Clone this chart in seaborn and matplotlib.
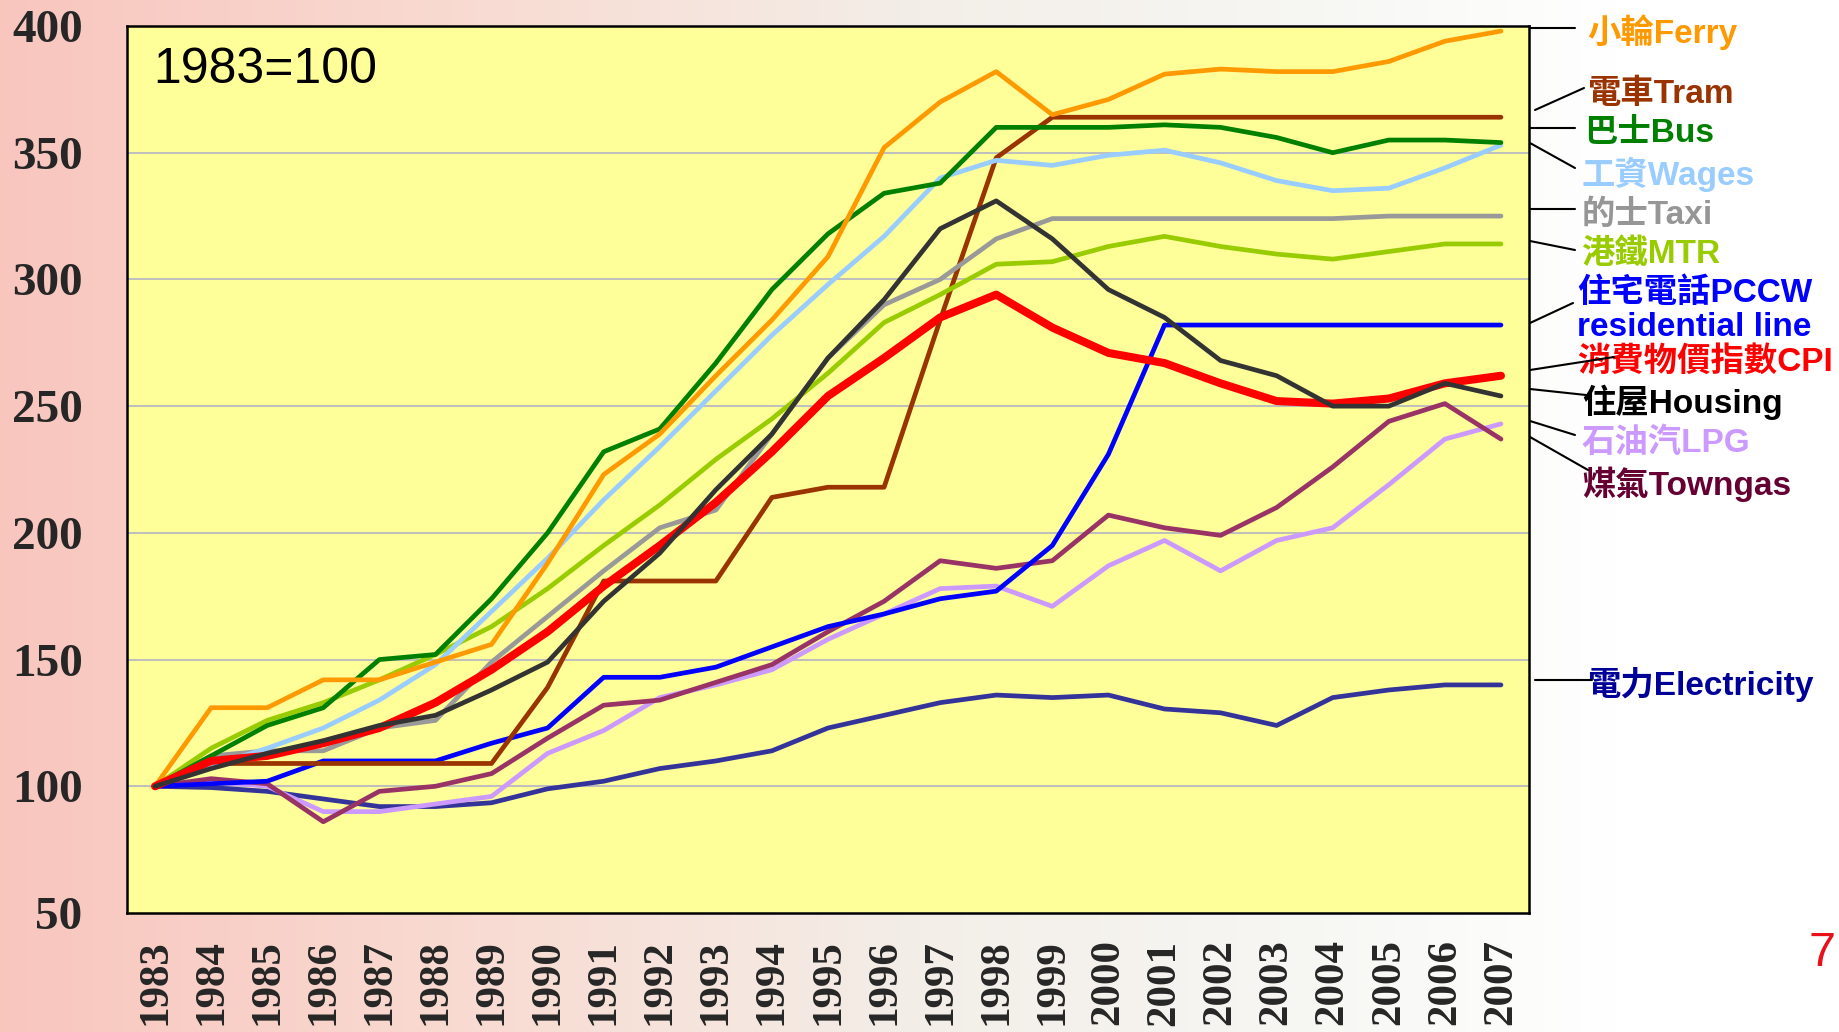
import numpy as np
import pandas as pd
import matplotlib
matplotlib.use("Agg")
import matplotlib.pyplot as plt
from matplotlib.colors import LinearSegmentedColormap
from matplotlib.lines import Line2D
import seaborn as sns

# ── Data (1983 = 100) ─────────────────────────────────────────────────────────
years = list(range(1983, 2008))

ferry       = [100, 131, 131, 142, 142, 149, 156, 188, 223, 239, 262, 284, 309,
               352, 370, 382, 365, 371, 381, 383, 382, 382, 386, 394, 398]
tram        = [100, 109, 109, 109, 109, 109, 109, 139, 181, 181, 181, 214, 218,
               218, 284, 348, 364, 364, 364, 364, 364, 364, 364, 364, 364]
bus         = [100, 112, 124, 131, 150, 152, 174, 200, 232, 241, 267, 296, 318,
               334, 338, 360, 360, 360, 361, 360, 356, 350, 355, 355, 354]
wages       = [100, 108, 115, 123, 134, 148, 169, 190, 213, 234, 256, 278, 298,
               317, 340, 347, 345, 349, 351, 346, 339, 335, 336, 344, 353]
taxi        = [100, 112, 114, 114, 123, 126, 149, 167, 185, 202, 209, 239, 269,
               290, 300, 316, 324, 324, 324, 324, 324, 324, 325, 325, 325]
mtr         = [100, 115, 126, 133, 142, 152, 163, 178, 195, 211, 229, 245, 263,
               283, 294, 306, 307, 313, 317, 313, 310, 308, 311, 314, 314]
pccw        = [100, 101, 102, 110, 110, 110, 117, 123, 143, 143, 147, 155, 163,
               168, 174, 177, 195, 231, 282, 282, 282, 282, 282, 282, 282]
cpi         = [100, 110, 112, 117, 123, 133, 146, 161, 179, 195, 212, 232, 254,
               269, 285, 294, 281, 271, 267, 259, 252, 251, 253, 259, 262]
housing     = [100, 107, 113, 118, 124, 128, 138, 149, 173, 192, 217, 239, 269,
               292, 320, 331, 316, 296, 285, 268, 262, 250, 250, 259, 254]
lpg         = [100, 102, 100, 90, 90, 93, 96, 113, 122, 135, 140, 146, 158,
               168, 178, 179, 171, 187, 197, 185, 197, 202, 219, 237, 243]
towngas     = [100, 103, 101, 86, 98, 100, 105, 119, 132, 134, 141, 148, 161,
               173, 189, 186, 189, 207, 202, 199, 210, 226, 244, 251, 237]
electricity = [100, 99.5, 98, 95, 92, 92, 93.5, 99, 102, 107, 110, 114, 123,
               128, 133, 136, 135, 136, 130.5, 129, 124, 135, 138, 140, 140]

y_ticks = [50, 100, 150, 200, 250, 300, 350, 400]

# ── Styling ───────────────────────────────────────────────────────────────────
W, H = 1840, 1032
def fx(px): return px / W
def fy(py): return 1 - py / H

sns.set_style("white")
plt.rcParams["font.family"] = ["Liberation Sans", "Noto Sans CJK TC", "DejaVu Sans"]

# series key -> (values, line colour, width pt) ; drawing order
series = [
    ("Electricity", electricity, "#333399", 3.4),
    ("LPG",         lpg,         "#CC99FF", 3.4),
    ("Towngas",     towngas,     "#993366", 3.4),
    ("PCCW",        pccw,        "#0000FF", 3.4),
    ("Tram",        tram,        "#993300", 3.4),
    ("Taxi",        taxi,        "#999999", 3.4),
    ("MTR",         mtr,         "#99CC00", 3.4),
    ("Wages",       wages,       "#99CCFF", 3.4),
    ("Bus",         bus,         "#008000", 3.4),
    ("Ferry",       ferry,       "#FF9900", 3.4),
    ("CPI",         cpi,         "#FF0000", 5.8),
    ("Housing",     housing,     "#333333", 3.4),
]

df = pd.concat([pd.DataFrame({"year": years, "index": vals, "item": key})
                for key, vals, _, _ in series], ignore_index=True)

fig = plt.figure(figsize=(W / 100, H / 100), dpi=100)

# gradient background (pink -> white)
bg = fig.add_axes([0, 0, 1, 1], zorder=-10)
cmap = LinearSegmentedColormap.from_list("bg", [
    (0.00, "#F9C6BE"), (0.28, "#F8DDD4"), (0.50, "#F3EEE8"),
    (0.72, "#F7F7F4"), (0.88, "#FFFFFF"), (1.00, "#FFFFFF")])
bg.imshow(np.linspace(0, 1, 512).reshape(1, -1), aspect="auto", cmap=cmap,
          extent=[0, 1, 0, 1])
bg.axis("off")

ax = fig.add_axes([fx(127), fy(913), fx(1529) - fx(127), fy(26) - fy(913)])
ax.set_facecolor("#FFFF99")

for key, vals, col, lw in series:
    sns.lineplot(data=df[df["item"] == key], x="year", y="index", ax=ax,
                 color=col, linewidth=lw, legend=False, zorder=3)

ax.set_xlim(years[0] - 0.5, years[-1] + 0.5)
ax.set_ylim(y_ticks[0], y_ticks[-1])
ax.set_yticks(y_ticks)
ax.set_yticklabels([str(t) for t in y_ticks])
ax.set_xticks(years)
ax.set_xticklabels([str(y) for y in years], rotation=90)
ax.set_xticks(np.arange(years[0] + 0.5, years[-1], 1), minor=True)
ax.set_xlabel("")
ax.set_ylabel("")

for t in y_ticks[1:-1]:
    ax.axhline(t, color="#BEBEBE", lw=1.4, zorder=1)

for sp in ax.spines.values():
    sp.set_color("black")
    sp.set_linewidth(1.8)
    sp.set_visible(True)

ax.tick_params(axis="y", direction="in", length=10, width=1.6, color="black",
               pad=32)
ax.tick_params(axis="x", which="major", length=0, pad=19)
ax.tick_params(axis="x", which="minor", direction="in", length=9, width=1.6,
               color="black")
for lab in ax.get_yticklabels():
    lab.set_fontfamily("Liberation Serif")
    lab.set_fontweight("bold")
    lab.set_fontsize(34)
for lab in ax.get_xticklabels():
    lab.set_fontfamily("Liberation Serif")
    lab.set_fontweight("bold")
    lab.set_fontsize(31)

ax.text(0.019, 0.950, "1983=100", transform=ax.transAxes, fontsize=36,
        ha="left", va="center", color="black")

# ── Right-hand labels with connector lines ───────────────────────────────────
labels = [
    ("小輪Ferry",                    "#FF9900", 1587, 32,  (1530, 28, 1575, 28)),
    ("電車Tram",                     "#993300", 1587, 94,  (1535, 110, 1584, 88)),
    ("巴士Bus",                      "#008000", 1584, 133, (1530, 128, 1575, 128)),
    ("工資Wages",                    "#99CCFF", 1582, 174, (1530, 143, 1575, 168)),
    ("的士Taxi",                     "#969696", 1582, 215, (1530, 209, 1575, 209)),
    ("港鐵MTR",                      "#99CC00", 1581, 255, (1530, 241, 1575, 250)),
    ("住宅電話PCCW\nresidential line", "#0000FF", 1577, 310, (1530, 323, 1573, 303)),
    ("消費物價指數CPI",               "#FF0000", 1577, 362, (1530, 370, 1614, 357)),
    ("住屋Housing",                  "#000000", 1582, 402, (1530, 389, 1586, 395)),
    ("石油汽LPG",                    "#CC99FF", 1582, 443, (1530, 421, 1575, 435)),
    ("煤氣Towngas",                  "#660033", 1582, 484, (1530, 437, 1588, 470)),
    ("電力Electricity",              "#000099", 1587, 684, (1535, 680, 1592, 680)),
]
for txt, col, tx, ty, (x0, y0, x1, y1) in labels:
    fig.text(fx(tx), fy(ty), txt, color=col, fontsize=24, fontweight="bold",
             ha="left", va="center", linespacing=1.15)
    fig.add_artist(Line2D([fx(x0), fx(x1)], [fy(y0), fy(y1)], color="black",
                          lw=1.5, zorder=5))

fig.text(fx(1822), fy(954), "7", color="#E8101A", fontsize=35,
         ha="center", va="center")

fig.savefig("out.png", dpi=100)
